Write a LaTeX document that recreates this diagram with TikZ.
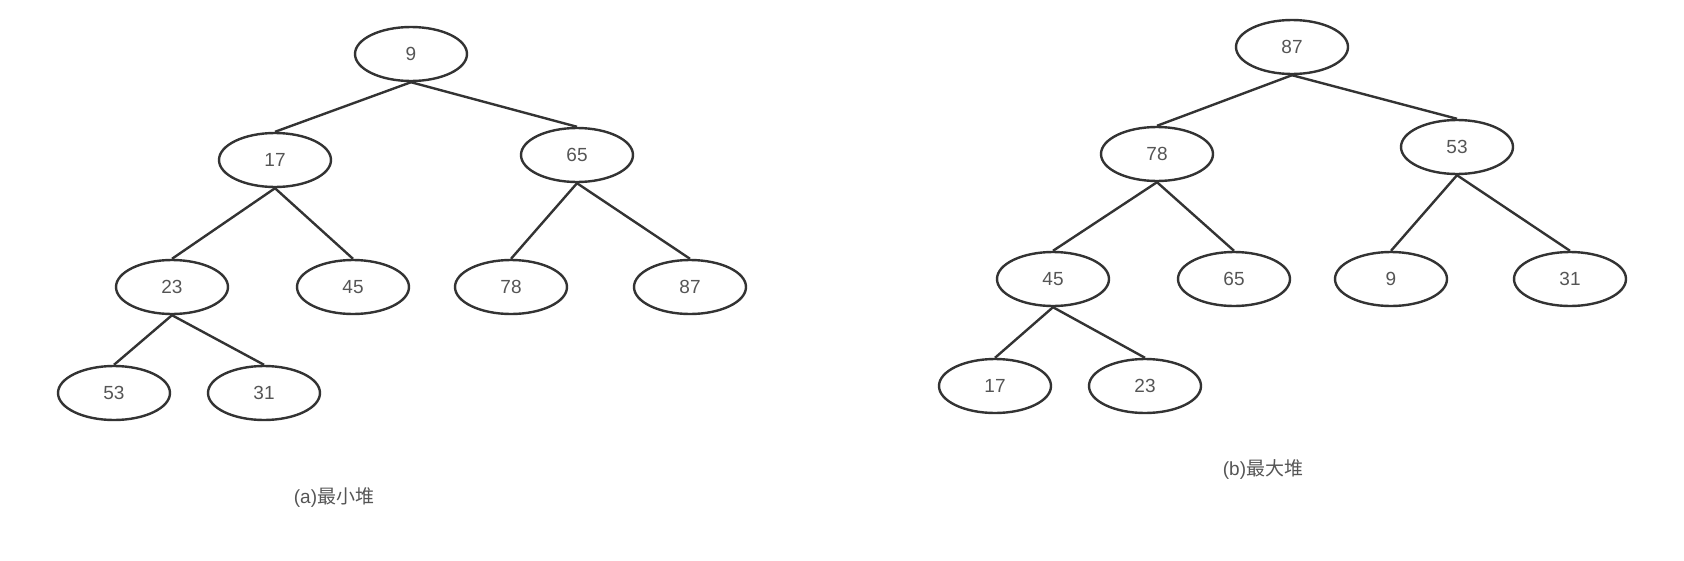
\documentclass[tikz,border=0pt]{standalone}
\usepackage{fontspec}
\setmainfont{Liberation Sans}
\newfontfamily\cjk{Noto Sans CJK SC}
\usepackage{tikz}
\usetikzlibrary{shapes.geometric}
\definecolor{edgegray}{HTML}{333333}
\definecolor{textgray}{HTML}{555555}

\begin{document}
\begin{tikzpicture}[
  x=1pt, y=-1pt,
  heapnode/.style={ellipse, draw=edgegray, line width=2.4pt, minimum width=112pt, minimum height=54pt, inner sep=0pt, text=textgray, font=\fontsize{19}{19}\selectfont},
  link/.style={line width=2.4pt, edgegray},
  caption/.style={text=textgray, font=\fontsize{19}{19}\selectfont},
]
\useasboundingbox (0,0) rectangle (1684,560);

% Min heap
\node[heapnode] (a9) at (411,54) {9};
\node[heapnode] (a17) at (275,160) {17};
\node[heapnode] (a65) at (577,155) {65};
\node[heapnode] (a23) at (172,287) {23};
\node[heapnode] (a45) at (353,287) {45};
\node[heapnode] (a78) at (511,287) {78};
\node[heapnode] (a87) at (690,287) {87};
\node[heapnode] (a53) at (114,393) {53};
\node[heapnode] (a31) at (264,393) {31};
\node[caption] (capa) at (334,498) {(a){\cjk 最小堆}};

% Max heap
\node[heapnode] (b87) at (1292,47) {87};
\node[heapnode] (b78) at (1157,154) {78};
\node[heapnode] (b53) at (1457,147) {53};
\node[heapnode] (b45) at (1053,279) {45};
\node[heapnode] (b65) at (1234,279) {65};
\node[heapnode] (b9) at (1391,279) {9};
\node[heapnode] (b31) at (1570,279) {31};
\node[heapnode] (b17) at (995,386) {17};
\node[heapnode] (b23) at (1145,386) {23};
\node[caption] (capb) at (1263,469) {(b){\cjk 最大堆}};

% Edges min heap
\draw[link] (a9.south) -- (a17.north);
\draw[link] (a9.south) -- (a65.north);
\draw[link] (a17.south) -- (a23.north);
\draw[link] (a17.south) -- (a45.north);
\draw[link] (a65.south) -- (a78.north);
\draw[link] (a65.south) -- (a87.north);
\draw[link] (a23.south) -- (a53.north);
\draw[link] (a23.south) -- (a31.north);

% Edges max heap
\draw[link] (b87.south) -- (b78.north);
\draw[link] (b87.south) -- (b53.north);
\draw[link] (b78.south) -- (b45.north);
\draw[link] (b78.south) -- (b65.north);
\draw[link] (b53.south) -- (b9.north);
\draw[link] (b53.south) -- (b31.north);
\draw[link] (b45.south) -- (b17.north);
\draw[link] (b45.south) -- (b23.north);

\end{tikzpicture}
\end{document}
